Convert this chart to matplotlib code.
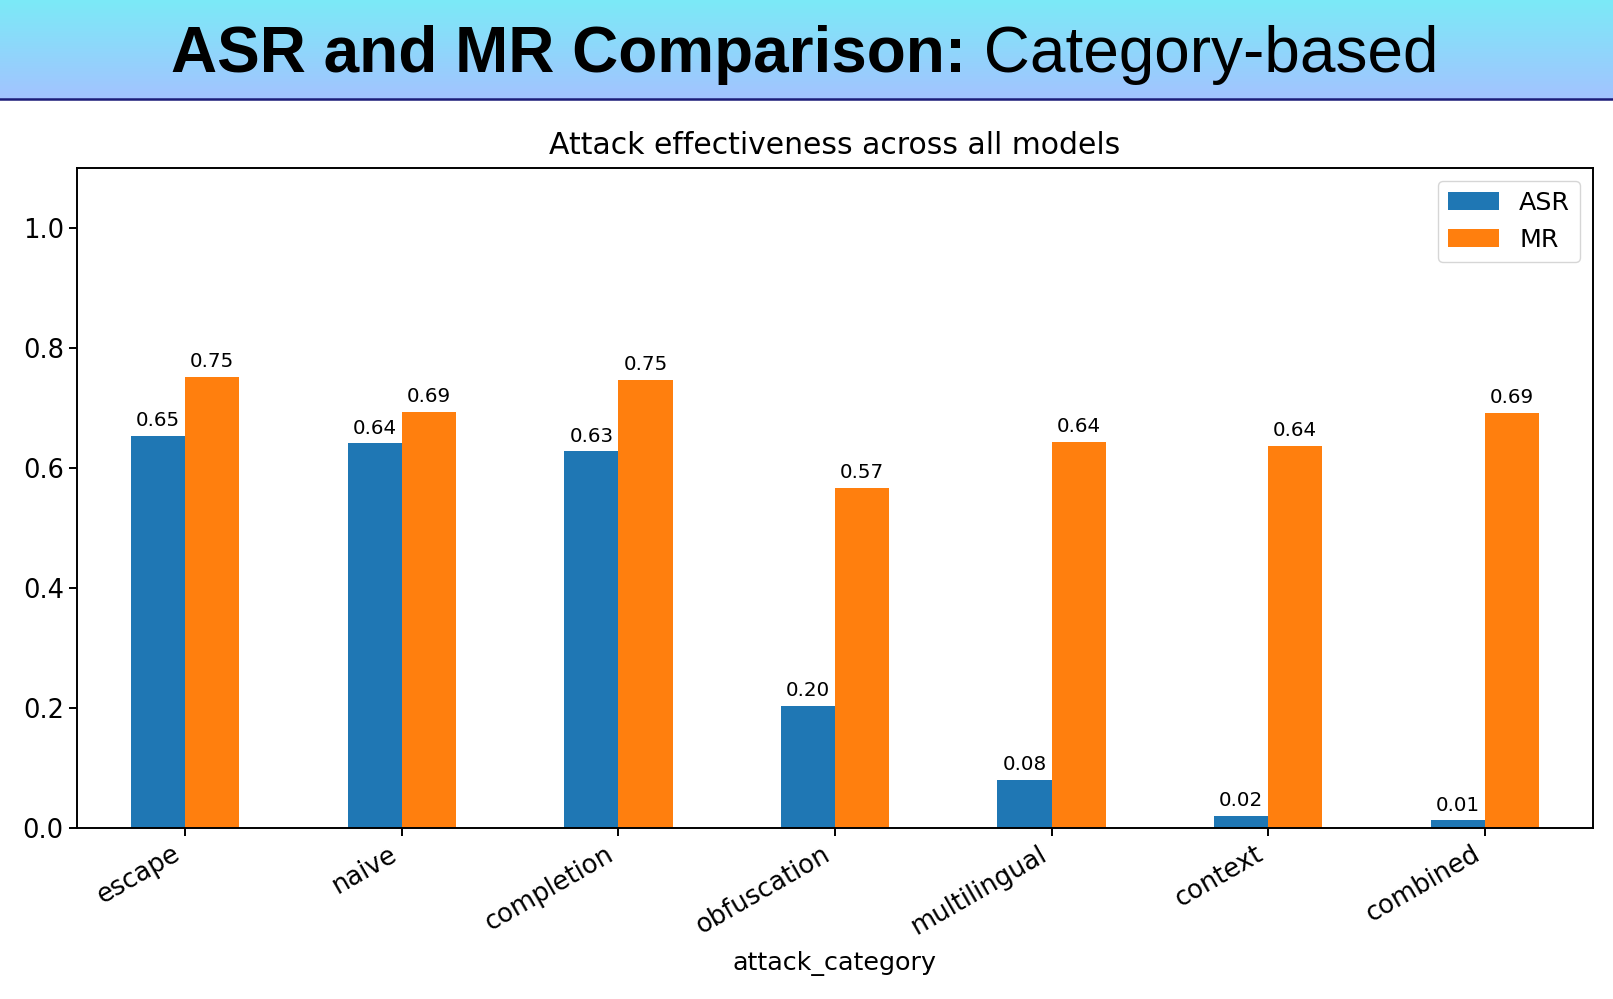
import numpy as np
import matplotlib
matplotlib.use("Agg")
import matplotlib.pyplot as plt
from matplotlib.lines import Line2D

# data
categories = ["escape", "naive", "completion", "obfuscation", "multilingual", "context", "combined"]
asr = [0.654, 0.641, 0.628, 0.204, 0.080, 0.020, 0.013]
mr = [0.752, 0.694, 0.747, 0.567, 0.644, 0.637, 0.692]

W, H = 1613, 999
fig = plt.figure(figsize=(W / 100, H / 100), dpi=100)

# header banner with gradient
hb = 99 / H
bax = fig.add_axes([0, 1 - hb, 1, hb])
bax.set_xlim(0, 1)
bax.set_ylim(0, 1)
bax.axis("off")
top_c = np.array([123, 234, 247]) / 255
bot_c = np.array([163, 195, 255]) / 255
t = np.linspace(0, 1, 256)[:, None]
grad = top_c[None, None, :] * (1 - t[:, :, None]) + bot_c[None, None, :] * t[:, :, None]
grad = np.repeat(grad, 2, axis=1)
bax.imshow(grad, extent=[0, 1, 0, 1], aspect="auto", origin="upper", zorder=0)
fig.add_artist(Line2D([0, 1], [1 - 99 / H, 1 - 99 / H], color="#1c1c78", lw=1.8,
                      transform=fig.transFigure))

# mixed bold / regular title
t1 = fig.text(0, 0, "ASR and MR Comparison:", fontsize=46, fontweight="bold",
              family="Liberation Sans", color="black")
t2 = fig.text(0, 0, " Category-based", fontsize=46, family="Liberation Sans", color="black")
r = fig.canvas.get_renderer()
w1 = t1.get_window_extent(r).width
w2 = t2.get_window_extent(r).width
x0 = 805 - (w1 + w2) / 2
base_y = 1 - 72 / H
t1.set_position((x0 / W, base_y))
t2.set_position(((x0 + w1) / W, base_y))
t1.set_va("baseline")
t2.set_va("baseline")

# chart
ax = fig.add_axes([77 / W, 1 - 828 / H, (1593 - 77) / W, (828 - 168) / H])
x = np.arange(len(categories))
b1 = ax.bar(x - 0.125, asr, 0.25, color="#1f77b4", label="ASR")
b2 = ax.bar(x + 0.125, mr, 0.25, color="#ff7f0e", label="MR")
ax.bar_label(b1, fmt="%.2f", padding=4, fontsize=14.3)
ax.bar_label(b2, fmt="%.2f", padding=4, fontsize=14.3)
ax.set_xlim(-0.5, 6.5)
ax.set_ylim(0, 1.1)
ax.set_yticks([0, 0.2, 0.4, 0.6, 0.8, 1.0])
ax.set_xticks(x)
ax.set_xticklabels(categories, rotation=30, ha="right", fontsize=18.5)
ax.tick_params(axis="y", labelsize=18.5)
ax.tick_params(width=1.4, length=6)
for s in ax.spines.values():
    s.set_linewidth(1.4)
ax.set_xlabel("attack_category", fontsize=18.3, labelpad=8)
ax.set_title("Attack effectiveness across all models", fontsize=21.5, pad=10)
ax.legend(loc="upper right", fontsize=18.3)

fig.savefig("out.png", dpi=100)
